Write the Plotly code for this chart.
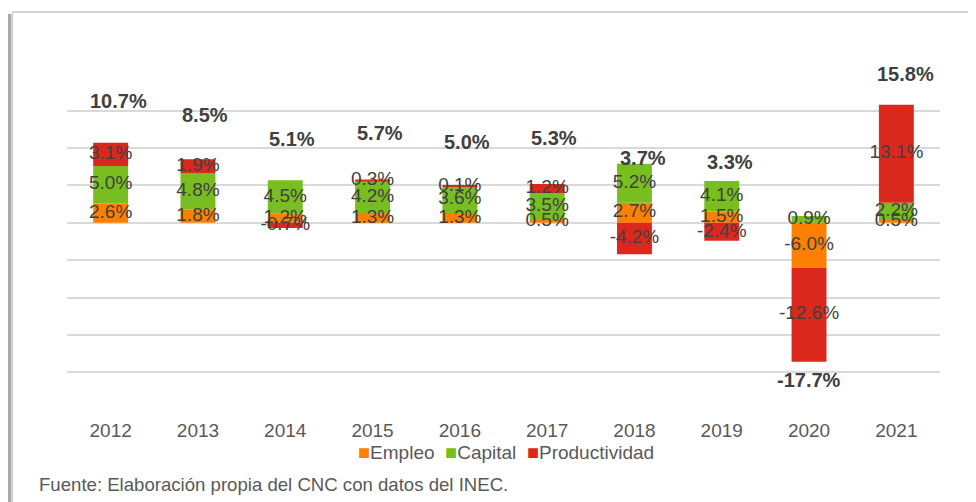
import plotly.graph_objects as go

# ---------------- data ----------------
years = ["2012", "2013", "2014", "2015", "2016", "2017", "2018", "2019", "2020", "2021"]
empleo = [2.6, 1.8, 1.2, 1.3, 1.3, 0.5, 2.7, 1.5, -6.0, 0.5]
capital = [5.0, 4.8, 4.5, 4.2, 3.6, 3.5, 5.2, 4.1, 0.9, 2.2]
productividad = [3.1, 1.9, -0.7, 0.3, 0.1, 1.2, -4.2, -2.4, -12.6, 13.1]
total = [10.7, 8.5, 5.1, 5.7, 5.0, 5.3, 3.7, 3.3, -17.7, 15.8]

series_names = ["Empleo", "Capital", "Productividad"]
series_values = [empleo, capital, productividad]

# ---------------- style / layout ----------------
colors = ["#FF8000", "#78BE20", "#DA291C"]
FONT = "Liberation Sans, Arial, sans-serif"
OFF = 8                      # page body margin
W, H = 976 - OFF, 502 - OFF
ML, MT = 67 - OFF, 73 - OFF
PW, PH = 873, 337
MR, MB = W - ML - PW, H - MT - PH
# pixel offsets of the total labels (layout only)
total_label_yshift = [42, 44, 46, 47, 43, 45, 37, 36, -25, 31]
total_label_xshift = [8, 7, 7, 7, 7, 7, 9, 8, 0, 9]


def px(x_page):
    return (x_page - 67) / PW


def py(y_page):
    return (410 - y_page) / PH


fig = go.Figure()

for name, vals, col in zip(series_names, series_values, colors):
    fig.add_trace(go.Bar(
        x=years, y=vals, name=name, marker=dict(color=col, line=dict(width=0)),
        width=0.4, hoverinfo="skip", showlegend=False,
    ))

# segment label positions computed from the stacked data
pos_base = [0.0] * len(years)
neg_base = [0.0] * len(years)
for vals in series_values:
    mids = []
    for i, v in enumerate(vals):
        if v >= 0:
            mids.append(pos_base[i] + v / 2)
            pos_base[i] += v
        else:
            mids.append(neg_base[i] + v / 2)
            neg_base[i] += v
    fig.add_trace(go.Scatter(
        x=years, y=mids, mode="text",
        text=[f"{v:.1f}%" for v in vals],
        textfont=dict(family=FONT, size=19, color="#404040"),
        showlegend=False, hoverinfo="skip", cliponaxis=False,
    ))

# totals (x given as category index)
for i, t in enumerate(total):
    fig.add_annotation(
        x=i, y=t, xref="x", yref="y", text=f"<b>{t:.1f}%</b>", showarrow=False,
        xshift=total_label_xshift[i], yshift=total_label_yshift[i],
        font=dict(family=FONT, size=20, color="#404040"),
        xanchor="center", yanchor="middle",
    )

# legend (colored squares + names)
legend_text = "&nbsp;&nbsp;".join(
    f'<span style="color:{c};font-size:20px">■</span>{n}'
    for n, c in zip(series_names, colors)
)
fig.add_annotation(
    x=px(506), y=py(452), xref="paper", yref="paper", text=legend_text,
    showarrow=False, xanchor="center", yanchor="middle",
    font=dict(family=FONT, size=19, color="#595959"),
)

fig.add_annotation(
    x=px(37), y=py(484), xref="paper", yref="paper",
    text="Fuente: Elaboración propia del CNC con datos del INEC.",
    showarrow=False, xanchor="left", yanchor="middle",
    font=dict(family=FONT, size=18.6, color="#595959"),
)

# frame (shadowed border)
fig.add_shape(type="line", xref="paper", yref="paper",
              x0=px(12), x1=px(976), y0=py(12), y1=py(12),
              line=dict(color="#d4d4d4", width=2))
fig.add_shape(type="line", xref="paper", yref="paper",
              x0=px(9.5), x1=px(9.5), y0=py(14), y1=py(502),
              line=dict(color="#a9a9a9", width=4))
fig.add_shape(type="line", xref="paper", yref="paper",
              x0=px(12.5), x1=px(12.5), y0=py(12), y1=py(502),
              line=dict(color="#d0d0d0", width=1.5))

fig.update_layout(
    width=W, height=H,
    margin=dict(l=ML, r=MR, t=MT, b=MB, autoexpand=False),
    barmode="relative",
    plot_bgcolor="white", paper_bgcolor="white",
    font=dict(family=FONT, color="#595959"),
    showlegend=False,
    xaxis=dict(
        type="category", categoryorder="array", categoryarray=years,
        range=[-0.5, len(years) - 0.5],
        showgrid=False, showline=False, zeroline=False,
        ticks="outside", ticklen=3, tickcolor="rgba(0,0,0,0)",
        tickfont=dict(family=FONT, size=19, color="#595959"),
    ),
    yaxis=dict(
        range=[-25.05, 20.05], dtick=5, tick0=0, showticklabels=False,
        showgrid=True, gridcolor="#d9d9d9", gridwidth=1.5,
        zeroline=True, zerolinecolor="#d9d9d9", zerolinewidth=1.5,
        showline=False, ticks="",
    ),
)

fig.write_html("out.html")
